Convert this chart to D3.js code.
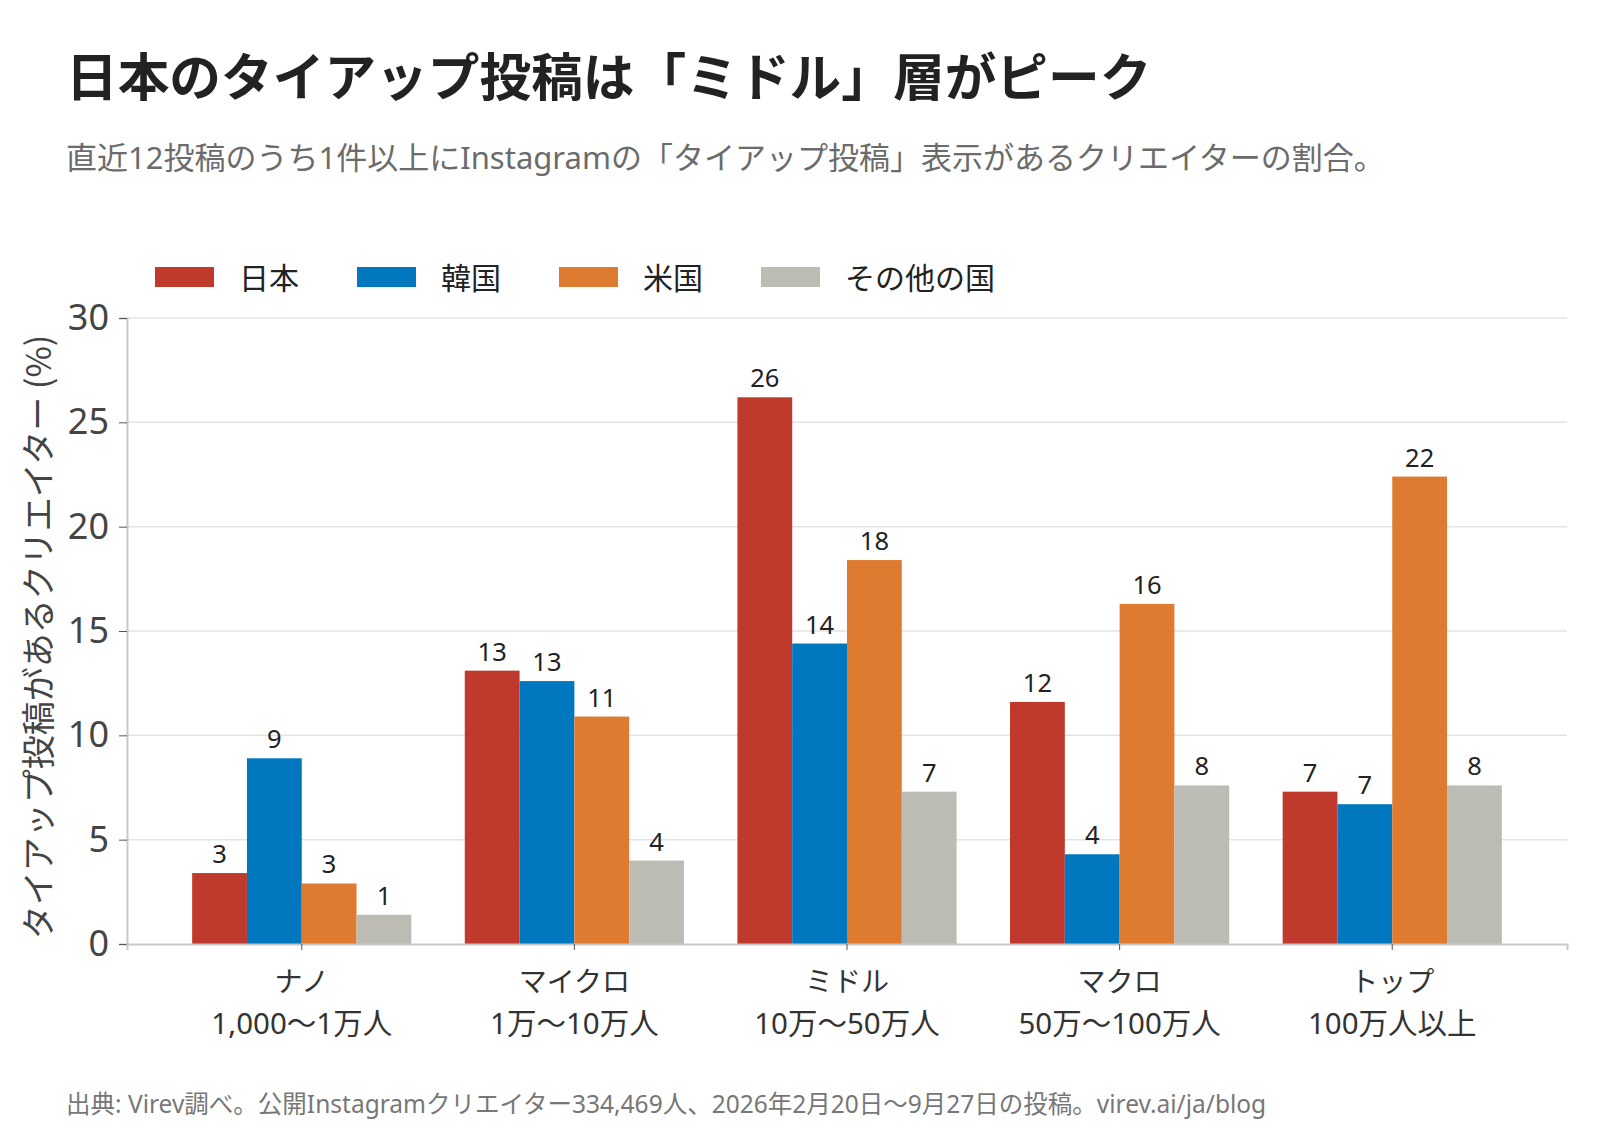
<!DOCTYPE html>
<html><head><meta charset="utf-8">
<script src="https://cdn.jsdelivr.net/npm/d3@7"></script>
<style>
html,body{margin:0;padding:0;background:#fff;}
svg{display:block;font-family:"Noto Sans","Noto Sans CJK JP",sans-serif;}
</style></head>
<body>
<svg id="chart" width="1600" height="1137"></svg>
<script>
const categories = ["ナノ","マイクロ","ミドル","マクロ","トップ"];
const categorySub = ["1,000〜1万人","1万〜10万人","10万〜50万人","50万〜100万人","100万人以上"];
const seriesNames = ["日本","韓国","米国","その他の国"];
const japan  = [3.4, 13.1, 26.2, 11.6, 7.3];
const korea  = [8.9, 12.6, 14.4, 4.3, 6.7];
const usa    = [2.9, 10.9, 18.4, 16.3, 22.4];
const others = [1.4, 4.0, 7.3, 7.6, 7.6];
const yTicks = [0,5,10,15,20,25,30];
const colors = ["#bf392c","#0077bf","#df7b30","#bcbcb5"];

const seriesValues = [japan, korea, usa, others];
const svg = d3.select("#chart");
const plot = {left:127, right:1567, top:318, bottom:944};
const CJK = "'Noto Sans CJK JP',sans-serif";

// Title & subtitle
svg.append("text").attr("x",66).attr("y",96)
  .attr("font-size",51.7).attr("font-weight",700).attr("fill","#222")
  .attr("font-family",CJK)
  .text("日本のタイアップ投稿は「ミドル」層がピーク");
svg.append("text").attr("x",66).attr("y",169)
  .attr("font-size",31).attr("fill","#6b6b6b")
  .text("直近12投稿のうち1件以上にInstagramの「タイアップ投稿」表示があるクリエイターの割合。");

// Legend
const legend = svg.append("g");
seriesNames.forEach((n,i)=>{
  const gx = 155 + i*202;
  legend.append("rect").attr("x",gx).attr("y",267).attr("width",59).attr("height",20).attr("fill",colors[i]);
  legend.append("text").attr("x",gx+84).attr("y",289).attr("font-size",30).attr("fill","#222")
    .attr("font-family",CJK).text(n);
});

// Scales
const x0 = d3.scaleBand().domain(categories).range([plot.left, plot.right]).paddingInner(0.196).paddingOuter(0.239);
const x1 = d3.scaleBand().domain(seriesNames).range([0, x0.bandwidth()]);
const y = d3.scaleLinear().domain([0,30]).range([plot.bottom, plot.top]);

// Gridlines
svg.append("g").selectAll("line").data(yTicks.filter(d=>d>0)).join("line")
  .attr("x1",plot.left).attr("x2",plot.right)
  .attr("y1",d=>y(d)).attr("y2",d=>y(d))
  .attr("stroke","#e3e3e3").attr("stroke-width",1.5);

// Bars
const groups = svg.append("g").selectAll("g").data(categories).join("g")
  .attr("transform",c=>`translate(${x0(c)},0)`);
groups.each(function(c,ci){
  const g = d3.select(this);
  seriesNames.forEach((s,si)=>{
    const v = seriesValues[si][ci];
    g.append("rect").attr("x",x1(s)).attr("y",y(v))
      .attr("width",x1.bandwidth()).attr("height",y(0)-y(v)).attr("fill",colors[si]);
    g.append("text").attr("x",x1(s)+x1.bandwidth()/2).attr("y",y(v)-10)
      .attr("text-anchor","middle").attr("font-size",25.5).attr("fill","#222")
      .text(Math.round(v));
  });
});

// Y axis
const yAxis = svg.append("g").attr("transform",`translate(${plot.left},0)`)
  .call(d3.axisLeft(y).tickValues(yTicks).tickSize(8).tickPadding(10));
yAxis.select(".domain").attr("stroke","#c8c8c8").attr("stroke-width",2);
yAxis.selectAll(".tick line").attr("stroke","#555");
yAxis.selectAll(".tick text").attr("font-size",36).attr("fill","#444")
  .attr("font-family","'Noto Sans',sans-serif");

// X axis
const xAxis = svg.append("g").attr("transform",`translate(0,${plot.bottom})`)
  .call(d3.axisBottom(x0).tickSize(6).tickFormat(""));
xAxis.select(".domain").attr("stroke","#c8c8c8").attr("stroke-width",2);
xAxis.selectAll(".tick line").attr("stroke","#555");
xAxis.selectAll(".tick").each(function(c,i){
  const t = d3.select(this);
  t.append("text").attr("y",48).attr("text-anchor","middle").attr("font-size",28).attr("fill","#333")
    .attr("font-family","'Noto Sans','Noto Sans CJK JP',sans-serif").text(c);
  t.append("text").attr("y",90).attr("text-anchor","middle").attr("font-size",29.5).attr("fill","#333")
    .attr("font-family","'Noto Sans','Noto Sans CJK JP',sans-serif").text(categorySub[i]);
});

// Y axis title
svg.append("text").attr("transform",`translate(51,${(plot.top+plot.bottom)/2+6}) rotate(-90)`)
  .attr("text-anchor","middle").attr("font-size",34).attr("fill","#444")
  .attr("font-family",CJK)
  .text("タイアップ投稿があるクリエイター (%)");

// Footer
svg.append("text").attr("x",66).attr("y",1113).attr("font-size",24.5).attr("fill","#777")
  .text("出典: Virev調べ。公開Instagramクリエイター334,469人、2026年2月20日〜9月27日の投稿。virev.ai/ja/blog");
</script>
</body></html>
